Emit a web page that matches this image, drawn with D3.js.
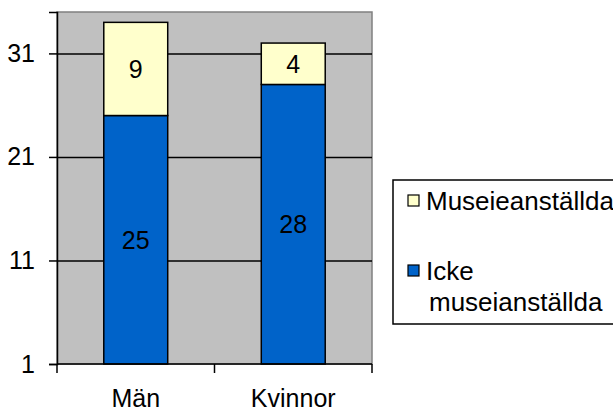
<!DOCTYPE html>
<html>
<head>
<meta charset="utf-8">
<script src="https://cdn.jsdelivr.net/npm/d3@7"></script>
<style>
  body { margin: 0; background: #fff; overflow: hidden; }
  text { font-family: "Liberation Sans", Arial, sans-serif; }
</style>
</head>
<body>
<div id="chart"></div>
<script>
// data
var categories = ["Män", "Kvinnor"];
var icke = [25, 28];          // Icke museianställda
var museum = [9, 4];          // Museieanställda
var seriesNames = ["Icke museianställda", "Museieanställda"];
var yTicks = [1, 11, 21, 31];

var colors = { icke: "#0063C9", museum: "#FFFFCC" };

var W = 613, H = 412;
var plot = { left: 57, top: 12, right: 372, bottom: 364 };
var fs = 25;

var svg = d3.select("#chart").append("svg")
    .attr("width", W).attr("height", H)
    .style("display", "block");

var x = d3.scaleBand()
    .domain(categories)
    .range([plot.left, plot.right])
    .paddingInner(0.594)
    .paddingOuter(0.297);

var y = d3.scaleLinear()
    .domain([1, 35])
    .range([plot.bottom, plot.top]);

// plot background
svg.append("rect")
    .attr("x", plot.left).attr("y", plot.top)
    .attr("width", plot.right - plot.left)
    .attr("height", plot.bottom - plot.top)
    .attr("fill", "#C0C0C0")
    .attr("stroke", "#808080")
    .attr("stroke-width", 1.5);

// gridlines
svg.append("g")
    .attr("transform", "translate(" + plot.left + ",0)")
    .call(d3.axisLeft(y).tickValues(yTicks.slice(1)).tickSize(-(plot.right - plot.left)).tickFormat(""))
    .call(function (g) { g.select(".domain").remove(); })
    .selectAll("line").attr("stroke", "#000").attr("stroke-width", 1.5);

// stacked bars
var rows = categories.map(function (c, i) {
    return { cat: c, icke: icke[i], museum: museum[i] };
});
var stack = d3.stack().keys(["icke", "museum"])(rows);

var layer = svg.selectAll(".layer")
    .data(stack)
    .enter().append("g")
    .attr("class", "layer")
    .attr("fill", function (d) { return colors[d.key]; });

layer.selectAll("rect")
    .data(function (d) { return d; })
    .enter().append("rect")
    .attr("x", function (d) { return x(d.data.cat); })
    .attr("y", function (d) { return y(d[1]); })
    .attr("width", x.bandwidth())
    .attr("height", function (d) { return y(Math.max(d[0], 1)) - y(d[1]); })
    .attr("stroke", "#000")
    .attr("stroke-width", 1.5);

layer.selectAll("text")
    .data(function (d) { return d; })
    .enter().append("text")
    .attr("x", function (d) { return x(d.data.cat) + x.bandwidth() / 2; })
    .attr("y", function (d) { return (y(Math.max(d[0], 1)) + y(d[1])) / 2; })
    .attr("dy", "0.36em")
    .attr("text-anchor", "middle")
    .attr("fill", "#000")
    .style("font-size", fs + "px")
    .text(function (d) { return d[1] - d[0]; });

// y axis
var yAxis = svg.append("g")
    .attr("transform", "translate(" + plot.left + ",0)")
    .call(d3.axisLeft(y).tickValues(yTicks).tickSize(8).tickPadding(14));
yAxis.select(".domain").attr("stroke", "#000").attr("stroke-width", 1.5);
yAxis.selectAll("line").attr("stroke", "#000").attr("stroke-width", 1.5);
yAxis.selectAll("text").style("font-size", fs + "px").attr("fill", "#000");

// x axis
var xAxis = svg.append("g")
    .attr("transform", "translate(0," + plot.bottom + ")");
xAxis.append("line")
    .attr("x1", plot.left).attr("x2", plot.right)
    .attr("stroke", "#000").attr("stroke-width", 1.5);
xAxis.selectAll(".tk")
    .data(d3.range(categories.length + 1))
    .enter().append("line")
    .attr("x1", function (i) { return plot.left + i * x.step(); })
    .attr("x2", function (i) { return plot.left + i * x.step(); })
    .attr("y1", 0).attr("y2", 9)
    .attr("stroke", "#000").attr("stroke-width", 1.5);
xAxis.selectAll(".lbl")
    .data(categories)
    .enter().append("text")
    .attr("x", function (d) { return x(d) + x.bandwidth() / 2; })
    .attr("y", 43)
    .attr("text-anchor", "middle")
    .style("font-size", fs + "px")
    .text(function (d) { return d; });

// legend (runs past the right edge, as in the original: no right border)
var legend = svg.append("g");
legend.append("rect")
    .attr("x", 393).attr("y", 180)
    .attr("width", 240).attr("height", 144)
    .attr("fill", "#fff");
legend.append("path")
    .attr("d", "M640,180H393V324H640")
    .attr("fill", "none")
    .attr("stroke", "#000").attr("stroke-width", 1.5);

var legendItems = [
    { key: "museum", lines: [seriesNames[1]], y: 201 },
    { key: "icke", lines: ["Icke", "museianställda"], y: 271 }
];
legendItems.forEach(function (it) {
    legend.append("rect")
        .attr("x", 408).attr("y", it.y - 6)
        .attr("width", 11).attr("height", 11)
        .attr("fill", colors[it.key])
        .attr("stroke", "#000").attr("stroke-width", 1.2);
    var t = legend.append("text")
        .attr("x", 426).attr("y", it.y)
        .style("font-size", "26px");
    it.lines.forEach(function (l, j) {
        t.append("tspan")
            .attr("x", j === 0 ? 426 : 429)
            .attr("dy", j === 0 ? "0.36em" : "31px")
            .text(l);
    });
});
</script>
</body>
</html>
